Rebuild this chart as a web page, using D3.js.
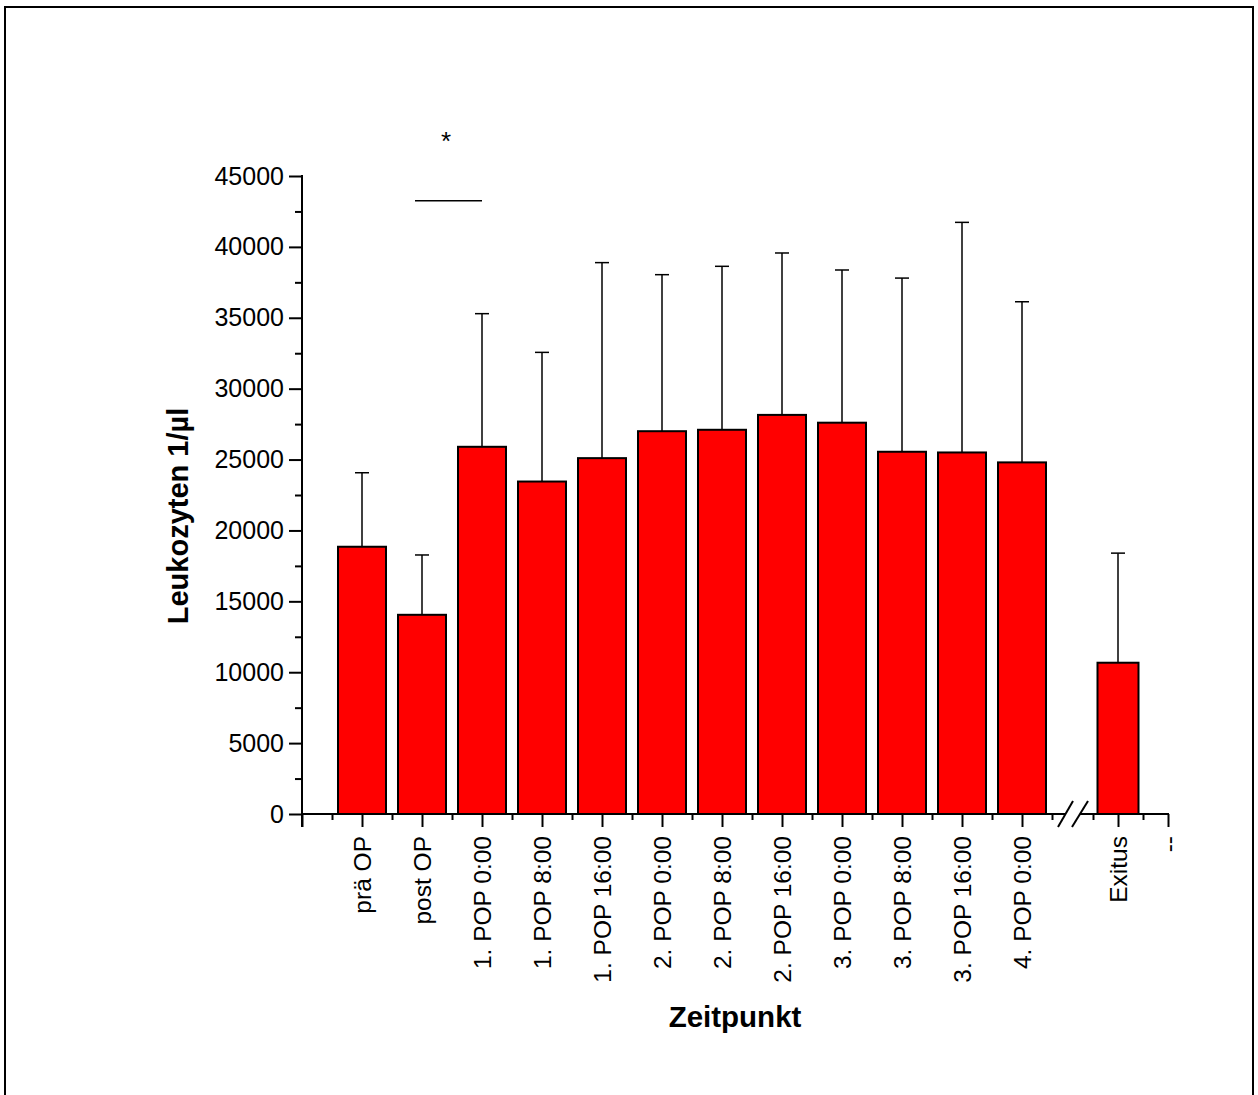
<!DOCTYPE html>
<html>
<head>
<meta charset="utf-8">
<script src="https://cdn.jsdelivr.net/npm/d3@7"></script>
<style>
  body { margin: 0; background: #fff; }
  text { font-family: "Liberation Sans", Arial, sans-serif; fill: #000; }
</style>
</head>
<body>
<div id="svg-container"></div>
<script>
// data
const categories = ["prä OP", "post OP", "1. POP 0:00", "1. POP 8:00", "1. POP 16:00",
  "2. POP 0:00", "2. POP 8:00", "2. POP 16:00", "3. POP 0:00", "3. POP 8:00",
  "3. POP 16:00", "4. POP 0:00"];
const means = [18850, 14050, 25900, 23450, 25100, 27000, 27100, 28150, 27600, 25550, 25500, 24800];
const sds = [5220, 4220, 9390, 9110, 13790, 11040, 11530, 11420, 10770, 12250, 16230, 11330];

const breakCategories = ["Exitus", "--"];
const breakMeans = [10670];
const breakSds = [7730];

const yTicks = d3.range(0, 45001, 5000);
const sigLevel = 43250;

const width = 1258;
const height = 1095;

const svg = d3
  .select("#svg-container")
  .append("svg")
  .attr("width", width)
  .attr("height", height);

// frame
svg.append("rect")
  .attr("x", 5).attr("y", 7)
  .attr("width", 1248).attr("height", 1100)
  .attr("fill", "none").attr("stroke", "#000").attr("stroke-width", 2);

const y = d3.scaleLinear().domain([0, 45000]).range([814, 176]);
const x1 = d3.scaleLinear().domain([0, 12.5]).range([302, 1052]);
const x2 = d3.scaleLinear().domain([0.5, 2]).range([1093, 1168]);

const data1 = categories.map((c, i) => ({ cat: c, pos: i + 1, mean: means[i], sd: sds[i] }));
const data2 = breakMeans.map((m, i) => ({ cat: breakCategories[i], pos: i + 1, mean: m, sd: breakSds[i] }));

function drawBars(data, x, bw) {
  const g = svg.append("g");
  // error bars (upper only)
  g.selectAll(".err")
    .data(data)
    .join("line")
    .attr("x1", (d) => x(d.pos)).attr("x2", (d) => x(d.pos))
    .attr("y1", (d) => y(d.mean)).attr("y2", (d) => y(d.mean + d.sd))
    .attr("stroke", "#000").attr("stroke-width", 1.5);
  g.selectAll(".cap")
    .data(data)
    .join("line")
    .attr("x1", (d) => x(d.pos) - 7).attr("x2", (d) => x(d.pos) + 7)
    .attr("y1", (d) => y(d.mean + d.sd)).attr("y2", (d) => y(d.mean + d.sd))
    .attr("stroke", "#000").attr("stroke-width", 1.5);
  g.selectAll("rect")
    .data(data)
    .join("rect")
    .attr("x", (d) => x(d.pos) - bw / 2)
    .attr("width", bw)
    .attr("y", (d) => y(d.mean))
    .attr("height", (d) => y(0) - y(d.mean))
    .attr("fill", "#ff0000")
    .attr("stroke", "#000")
    .attr("stroke-width", 2);
}

drawBars(data1, x1, 48);
drawBars(data2, x2, 41);

// x axis: major ticks with labels, minor ticks between
function xAxis(x, majors, minors, labels) {
  const g = svg.append("g").attr("transform", "translate(0,814)");
  g.call(
    d3.axisBottom(x)
      .tickValues(majors)
      .tickSize(13)
      .tickSizeOuter(0)
      .tickFormat((d) => labels[d] || "")
  );
  g.select(".domain").remove();
  g.selectAll(".tick line").attr("stroke-width", 2);
  g.selectAll("text")
    .attr("transform", "rotate(-90)")
    .attr("text-anchor", "end")
    .attr("x", -22)
    .attr("y", 0)
    .attr("dy", "0.35em")
    .style("font-size", "24.5px");
  const m = svg.append("g").attr("transform", "translate(0,814)");
  m.call(d3.axisBottom(x).tickValues(minors).tickSize(6).tickFormat(""));
  m.select(".domain").remove();
  m.selectAll(".tick line").attr("stroke-width", 2);
}

const labels1 = {};
categories.forEach((c, i) => (labels1[i + 1] = c));
xAxis(x1, d3.range(0, 13), d3.range(0.5, 13, 1), labels1);

const labels2 = {};
breakCategories.forEach((c, i) => (labels2[i + 1] = c));
xAxis(x2, [1, 2], [0.5, 1.5], labels2);

// x axis line with break
svg.append("line")
  .attr("x1", 301).attr("x2", 1065).attr("y1", 814).attr("y2", 814)
  .attr("stroke", "#000").attr("stroke-width", 2);
svg.append("line")
  .attr("x1", 1080).attr("x2", 1169).attr("y1", 814).attr("y2", 814)
  .attr("stroke", "#000").attr("stroke-width", 2);
[[1058, 1073], [1072, 1088]].forEach(([a, b]) => {
  svg.append("line")
    .attr("x1", a).attr("y1", 827).attr("x2", b).attr("y2", 801)
    .attr("stroke", "#000").attr("stroke-width", 2);
});

// y axis
const ya = svg.append("g").attr("transform", "translate(302,0)");
ya.call(d3.axisLeft(y).tickValues(yTicks).tickSize(13).tickPadding(5).tickFormat(d3.format("d")));
ya.select(".domain").remove();
ya.selectAll(".tick line").attr("stroke-width", 2);
ya.selectAll("text").style("font-size", "25px");
const ym = svg.append("g").attr("transform", "translate(302,0)");
ym.call(d3.axisLeft(y).tickValues(d3.range(2500, 45000, 5000)).tickSize(7).tickFormat(""));
ym.select(".domain").remove();
ym.selectAll(".tick line").attr("stroke-width", 2);
svg.append("line")
  .attr("x1", 302).attr("x2", 302).attr("y1", 175).attr("y2", 827)
  .attr("stroke", "#000").attr("stroke-width", 2);

// axis titles
svg.append("text")
  .attr("transform", "translate(188,516) rotate(-90)")
  .attr("text-anchor", "middle")
  .style("font-size", "29px")
  .style("font-weight", "bold")
  .text("Leukozyten 1/µl");

svg.append("text")
  .attr("x", 735).attr("y", 1027)
  .attr("text-anchor", "middle")
  .style("font-size", "29.5px")
  .style("font-weight", "bold")
  .text("Zeitpunkt");

// significance marker
svg.append("line")
  .attr("x1", 415).attr("x2", 482)
  .attr("y1", y(sigLevel)).attr("y2", y(sigLevel))
  .attr("stroke", "#000").attr("stroke-width", 1.5);
svg.append("text")
  .attr("x", 446).attr("y", 150)
  .attr("text-anchor", "middle")
  .style("font-size", "26px")
  .text("*");
</script>
</body>
</html>
